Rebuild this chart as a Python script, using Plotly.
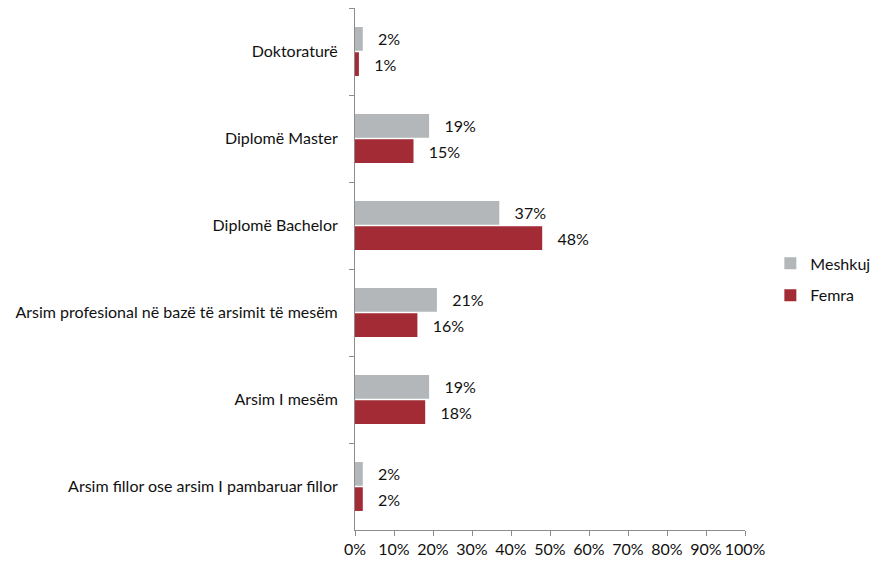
import plotly.graph_objects as go

categories = [
    "Doktoraturë",
    "Diplomë Master",
    "Diplomë Bachelor",
    "Arsim profesional në bazë të arsimit të mesëm",
    "Arsim I mesëm",
    "Arsim fillor ose arsim I pambaruar fillor",
]
meshkuj = [2, 19, 37, 21, 19, 2]
femra = [1, 15, 48, 16, 18, 2]
x_ticks = list(range(0, 101, 10))
x_tick_labels = [f"{v}%" for v in x_ticks]

FONT = "Lato, 'Open Sans', sans-serif"
FS = 16
GRAY = "#b3b7b9"
RED = "#a22b35"
PAD = "\u00a0\u00a0\u00a0"

fig = go.Figure()
fig.add_trace(go.Bar(
    name="Meshkuj", y=categories, x=meshkuj, orientation="h", legendgroup="m",
    marker=dict(color=GRAY, line=dict(width=0)),
    text=[f"{PAD}{v}%" for v in meshkuj], textposition="outside",
    textfont=dict(family=FONT, size=FS, color="#111"), cliponaxis=False,
))
fig.add_trace(go.Bar(
    name="Femra", y=categories, x=femra, orientation="h", legendgroup="f",
    marker=dict(color=RED, line=dict(width=0)),
    text=[f"{PAD}{v}%" for v in femra], textposition="outside",
    textfont=dict(family=FONT, size=FS, color="#111"), cliponaxis=False,
))

fig.update_layout(
    width=874, height=563,
    margin=dict(l=355, r=129, t=8, b=33, autoexpand=False),
    paper_bgcolor="white", plot_bgcolor="white",
    barmode="group", bargap=0.42, bargroupgap=0.06,
    font=dict(family=FONT, size=FS, color="#111"),
    showlegend=True,
    legend=dict(x=1.065, y=0.48, xanchor="left", yanchor="middle",
                font=dict(family=FONT, size=FS, color="#111"),
                tracegroupgap=8, itemwidth=30),
    uniformtext=dict(mode=False),
)
fig.update_xaxes(
    range=[0, 100], tickvals=x_ticks, ticktext=x_tick_labels,
    showgrid=False, zeroline=False, showline=True, linecolor="#8c8c8c",
    ticks="outside", ticklen=5, tickcolor="#8c8c8c",
    tickfont=dict(family=FONT, size=FS, color="#111"),
)
fig.update_yaxes(
    autorange="reversed", showgrid=False, zeroline=False,
    showline=True, linecolor="#8c8c8c",
    ticks="outside", ticklen=5, tickcolor="#8c8c8c", tickson="boundaries",
    tickfont=dict(family=FONT, size=FS, color="#111"), ticklabelstandoff=13,
)

fig.write_html("out.html")
